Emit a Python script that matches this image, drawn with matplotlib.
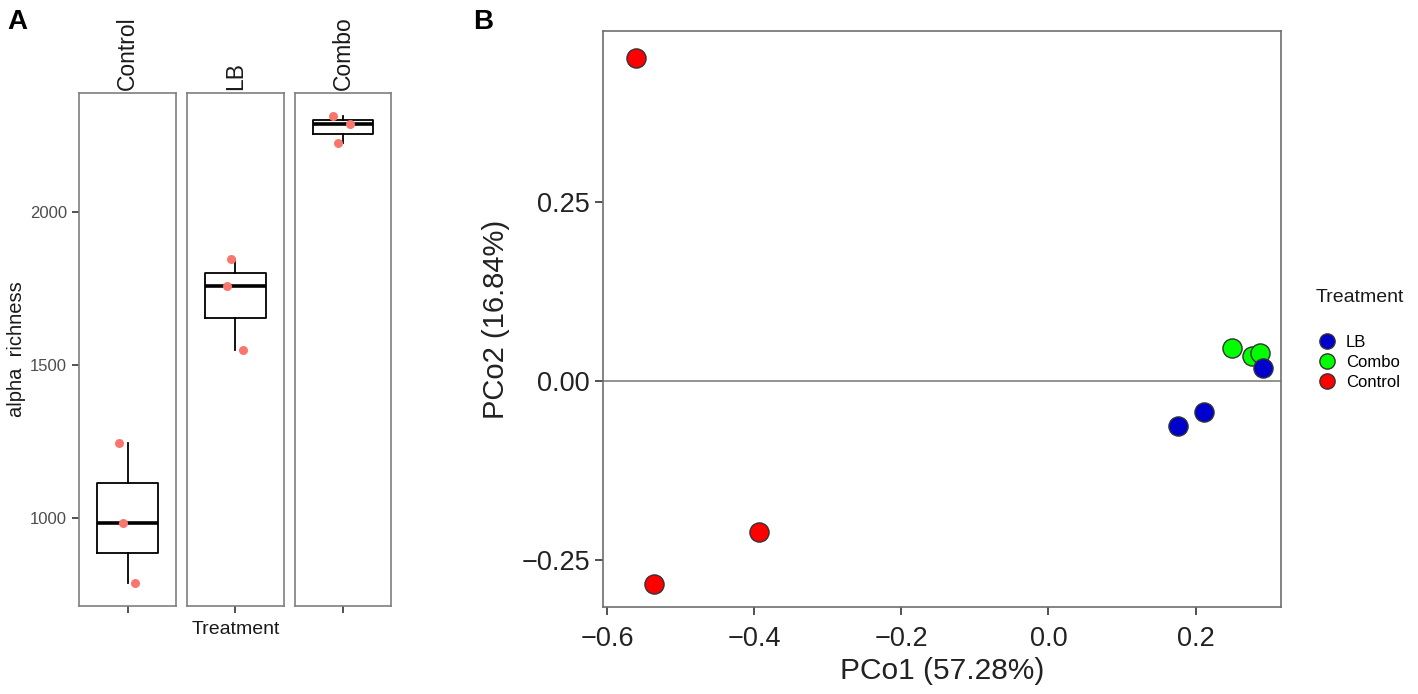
import numpy as np
import matplotlib.pyplot as plt
from matplotlib.lines import Line2D

plt.rcParams['font.family'] = ['Liberation Sans', 'DejaVu Sans']

# --- panel A: alpha richness, three samples per treatment ---
groups = ['Control', 'LB', 'Combo']
control_richness = [1245, 984, 788]
lb_richness = [1846, 1758, 1549]
combo_richness = [2314, 2288, 2225]
# horizontal jitter of the points
control_jitter = [-0.11, -0.06, 0.09]
lb_jitter = [-0.06, -0.11, 0.09]
combo_jitter = [-0.12, 0.09, -0.06]

# --- panel B: PCoA ordination ---
pco_treatment = ['Combo', 'Combo', 'Combo', 'LB', 'LB', 'LB',
                 'Control', 'Control', 'Control']
pco1 = [0.250, 0.276, 0.288, 0.176, 0.211, 0.292, -0.561, -0.536, -0.393]
pco2 = [0.046, 0.036, 0.040, -0.063, -0.043, 0.018, 0.451, -0.283, -0.210]
legend_order = ['LB', 'Combo', 'Control']
colors = {'LB': '#0000CD', 'Combo': '#00FF00', 'Control': '#FF0000'}

W, H = 1418, 694
fig = plt.figure(figsize=(W / 100, H / 100), dpi=100)


def box(x0, y0, x1, y1):
    # pixel box -> figure fraction rect
    return [x0 / W, 1 - y1 / H, (x1 - x0) / W, (y1 - y0) / H]


def minus(s):
    return s.replace('-', '\u2212')


# ---------------- panel A ----------------
facet_px = [(79, 176), (187, 284), (295, 391)]
values = [control_richness, lb_richness, combo_richness]
jitters = [control_jitter, lb_jitter, combo_jitter]
grey = '#7f7f7f'

for i, (name, vals, jit) in enumerate(zip(groups, values, jitters)):
    ax = fig.add_axes(box(facet_px[i][0], 93, facet_px[i][1], 606))
    ax.boxplot([vals], positions=[1], widths=0.75, whis=(0, 100),
               showcaps=False, showfliers=False,
               boxprops=dict(color='black', linewidth=1.3),
               whiskerprops=dict(color='black', linewidth=1.3),
               medianprops=dict(color='black', linewidth=2.6))
    ax.scatter(1 + np.array(jit), vals, s=42, color='#F8766D', zorder=3,
               linewidths=0)
    ax.set_xlim(0.4, 1.6)
    ax.set_ylim(712, 2389)
    ax.set_xticks([1])
    ax.set_xticklabels([''])
    for sp in ax.spines.values():
        sp.set_color(grey)
        sp.set_linewidth(1.2)
    ax.tick_params(colors='#333333', length=5, width=1.2, labelsize=12,
                   labelcolor='#4d4d4d')
    if i == 0:
        ax.set_yticks([1000, 1500, 2000])
        ax.set_ylabel('alpha  richness', fontsize=14.5, color='#1a1a1a',
                      labelpad=3)
    else:
        ax.set_yticks([])
    if i == 1:
        ax.set_xlabel('Treatment', fontsize=14, color='#1a1a1a', labelpad=2)
    ax.text(0.5, 1.006, name, transform=ax.transAxes, rotation=90,
            ha='center', va='bottom', fontsize=16.5, color='#1a1a1a')

fig.text(7 / W, 1 - 9 / H, 'A', fontsize=20, fontweight='bold',
         va='top', ha='left')

# ---------------- panel B ----------------
axb = fig.add_axes(box(603, 31, 1281, 607))
axb.axhline(0, color='#808080', linewidth=1.2, zorder=1)
for x, y, t in zip(pco1, pco2, pco_treatment):
    axb.scatter(x, y, s=190, color=colors[t], edgecolors='#333333',
                linewidths=1.0, zorder=3)
axb.set_xlim(-0.6054, 0.316)
axb.set_ylim(-0.315, 0.489)
xt = [-0.6, -0.4, -0.2, 0.0, 0.2]
yt = [-0.25, 0.0, 0.25]
axb.set_xticks(xt)
axb.set_xticklabels([minus(f'{v:.1f}') for v in xt])
axb.set_yticks(yt)
axb.set_yticklabels([minus(f'{v:.2f}') for v in yt])
for sp in axb.spines.values():
    sp.set_color('#6e6e6e')
    sp.set_linewidth(1.2)
axb.tick_params(colors='#333333', length=6, width=1.2, labelsize=19.5,
                labelcolor='#222222')
axb.tick_params(axis='x', pad=8)
axb.set_xlabel('PCo1 (57.28%)', fontsize=21.5, color='#222222', labelpad=3)
axb.set_ylabel('PCo2 (16.84%)', fontsize=21, color='#222222', labelpad=8)

# legend: title and keys placed separately to get ggplot-like spacing
fig.text(1316 / W, 1 - 298 / H, 'Treatment', fontsize=14, color='#1a1a1a',
         ha='left', va='center')
handles = [Line2D([], [], linestyle='none', marker='o', markersize=11,
                  markerfacecolor=colors[t], markeredgecolor='#333333',
                  markeredgewidth=1.0, label=t) for t in legend_order]
fig.legend(handles=handles, loc='center left',
           bbox_to_anchor=(1319 / W, 1 - 362 / H), frameon=False,
           fontsize=12, handletextpad=0.6, labelspacing=0.3,
           borderpad=0.0, borderaxespad=0.0, handlelength=1.0)

fig.text(473 / W, 1 - 9 / H, 'B', fontsize=20, fontweight='bold',
         va='top', ha='left')

fig.savefig('out.png', dpi=100, facecolor='white')
